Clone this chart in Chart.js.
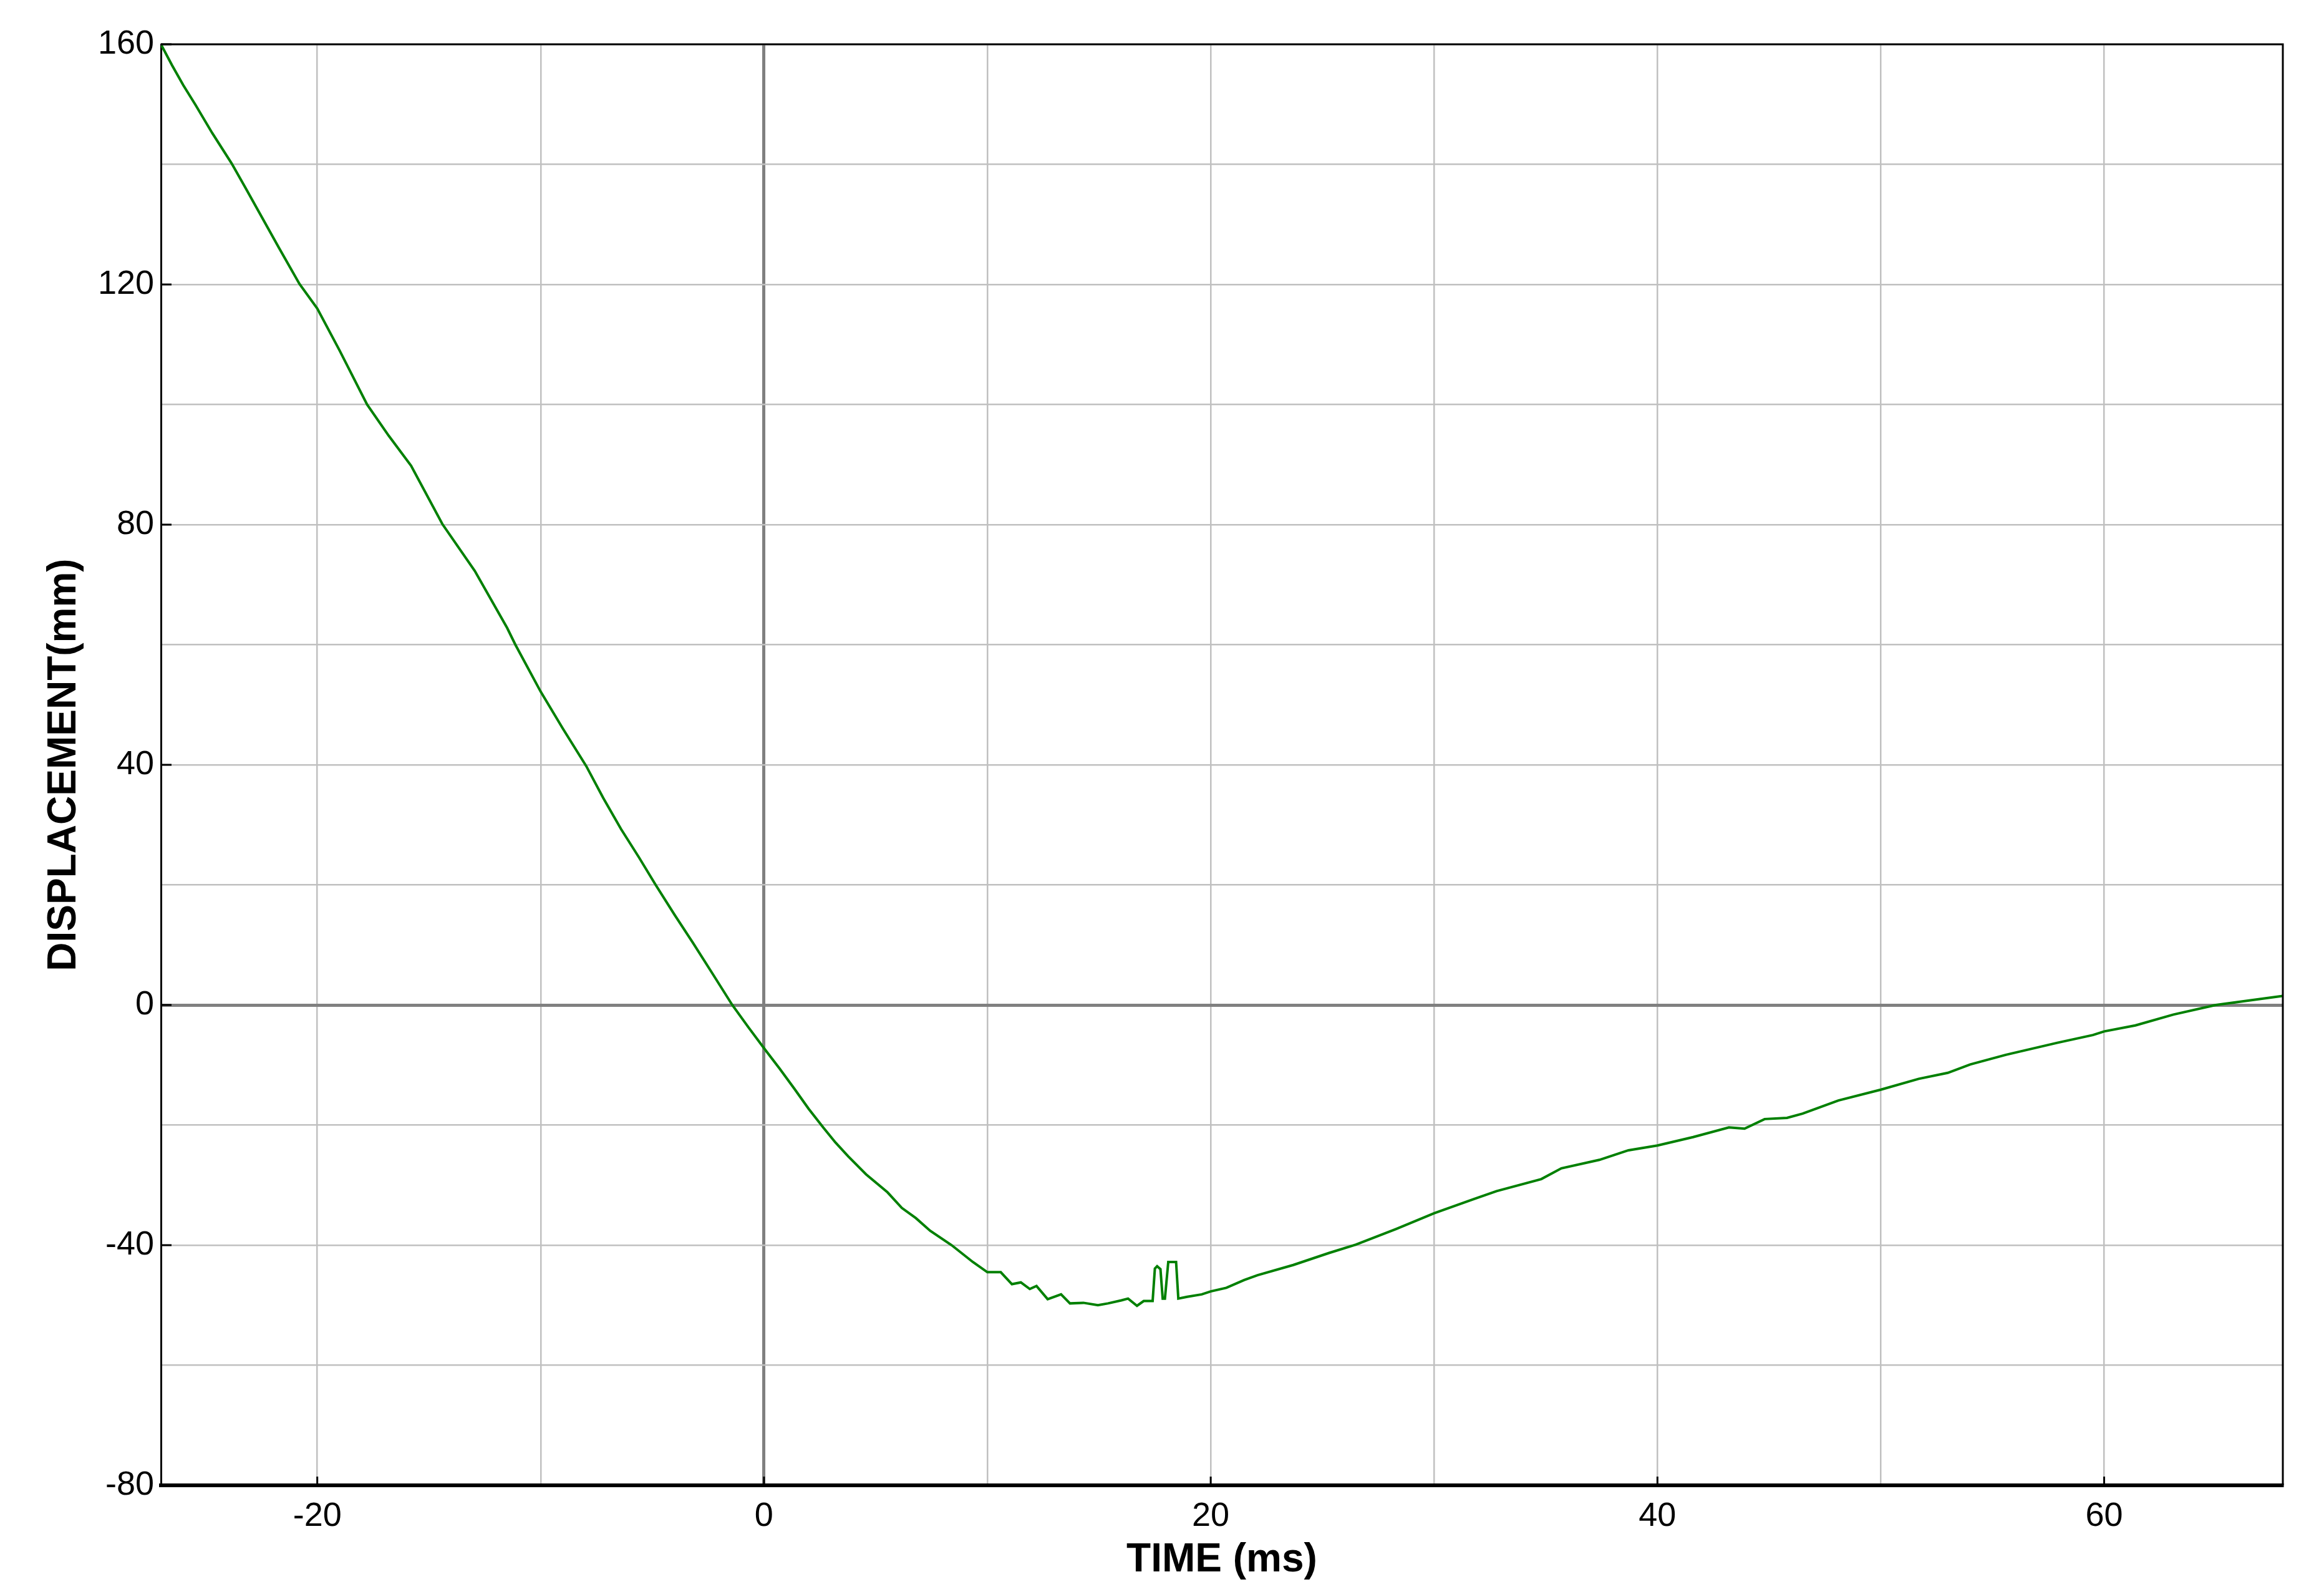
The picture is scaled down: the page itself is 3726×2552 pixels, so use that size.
<!DOCTYPE html>
<html>
<head>
<meta charset="utf-8">
<title>Displacement vs time</title>
<script src="https://cdn.jsdelivr.net/npm/chart.js@4.4.1/dist/chart.umd.min.js"></script>
<style>
  html, body { margin: 0; padding: 0; background: #ffffff; }
  canvas { display: block; }
</style>
</head>
<body>
<canvas id="dispChart" width="3726" height="2552"></canvas>
<script>
// ---- DATA ----
const timeMs = [
    -27.0, -26.5, -26.0, -25.45, -24.7, -23.84, -23.2, -22.6, -21.7, -20.8,
    -20.0, -19.0, -17.77, -16.8, -15.8, -14.4, -12.95, -11.5, -11.13, -10.0,
    -9.0, -7.96, -7.2, -6.4, -5.6, -4.85, -4.0, -3.19, -2.3, -1.42,
    -0.7, 0.0, 0.7, 1.37, 2.0, 2.65, 3.2, 3.77, 4.57, 5.53,
    6.17, 6.8, 7.44, 8.4, 9.35, 10.0, 10.6, 11.1, 11.5, 11.9,
    12.2, 12.7, 13.3, 13.7, 14.3, 14.95, 15.4, 16.0, 16.3, 16.7,
    17.0, 17.4, 17.5, 17.6, 17.75, 17.85, 17.95, 18.1, 18.45, 18.55,
    18.95, 19.6, 20.0, 20.7, 21.5, 22.1, 23.7, 25.3, 26.5, 28.3,
    30.0, 31.8, 32.8, 34.8, 35.7, 37.4, 38.7, 40.0, 41.6, 43.2,
    43.9, 44.8, 45.8, 46.5, 48.1, 50.0, 51.7, 53.0, 54.0, 55.6,
    57.9, 59.5, 60.0, 61.4, 63.1, 65.0, 66.6, 68.0
];
const displacementMm = [
    160.0, 156.5, 153.2, 149.9, 145.2, 140.2, 136.0, 132.0, 126.0, 120.1,
    116.0, 109.0, 100.0, 94.8, 89.8, 80.1, 72.3, 62.8, 60.0, 52.2,
    46.0, 39.8, 34.5, 29.3, 24.6, 20.0, 15.0, 10.4, 5.2, 0.0,
    -3.7, -7.2, -10.6, -14.0, -17.3, -20.4, -22.9, -25.2, -28.2, -31.2,
    -33.8, -35.5, -37.6, -40.0, -42.8, -44.5, -44.5, -46.5, -46.2, -47.3,
    -46.8, -49.0, -48.2, -49.7, -49.6, -50.0, -49.7, -49.2, -48.9, -50.1,
    -49.3, -49.3, -43.9, -43.5, -44.0, -48.9, -48.9, -42.8, -42.8, -48.9,
    -48.6, -48.2, -47.7, -47.1, -45.8, -45.0, -43.3, -41.3, -39.9, -37.3,
    -34.7, -32.3, -31.0, -29.0, -27.2, -25.8, -24.2, -23.4, -22.0, -20.4,
    -20.6, -19.0, -18.8, -18.1, -15.9, -14.1, -12.3, -11.3, -9.9, -8.3,
    -6.3, -5.0, -4.4, -3.4, -1.6, 0.0, 0.8, 1.5
];

// axis ranges, grid lines and labelled ticks
const xRange = [-27, 68];
const yRange = [-80, 160];
const xGridValues = [-20, -10, 0, 10, 20, 30, 40, 50, 60];
const yGridValues = [-80, -60, -40, -20, 0, 20, 40, 60, 80, 100, 120, 140, 160];
const xTickLabels = [-20, 0, 20, 40, 60];
const yTickLabels = [-80, -40, 0, 40, 80, 120, 160];

const points = timeMs.map((t, i) => ({ x: t, y: displacementMm[i] }));

// grid colour: darker line at zero
const gridColor = ctx => (ctx.tick && ctx.tick.value === 0) ? "#808080" : "#c0c0c0";
const gridWidth = ctx => (ctx.tick && ctx.tick.value === 0) ? 5 : 2.5;

// frame on top/right + short inward tick marks at labelled values
const framePlugin = {
    id: "frame",
    afterDraw(chart) {
        const { ctx, chartArea: a, scales } = chart;
        ctx.save();
        ctx.strokeStyle = "#000000";
        ctx.lineWidth = 3;
        ctx.beginPath();
        ctx.moveTo(a.left, a.top);
        ctx.lineTo(a.right, a.top);
        ctx.lineTo(a.right, a.bottom);
        ctx.stroke();

        ctx.lineWidth = 3;
        ctx.beginPath();
        yTickLabels.forEach(v => {
            const py = scales.y.getPixelForValue(v);
            ctx.moveTo(a.left, py);
            ctx.lineTo(a.left + 17, py);
        });
        xTickLabels.forEach(v => {
            const px = scales.x.getPixelForValue(v);
            ctx.moveTo(px, a.bottom);
            ctx.lineTo(px, a.bottom - 14);
        });
        ctx.stroke();
        ctx.restore();
    }
};

Chart.defaults.font.family = "'Liberation Sans', Arial, sans-serif";
Chart.defaults.color = "#000000";

new Chart(document.getElementById("dispChart").getContext("2d"), {
    type: "line",
    data: {
        datasets: [{
            data: points,
            borderColor: "#008000",
            borderWidth: 4,
            pointRadius: 0,
            tension: 0,
            fill: false
        }]
    },
    options: {
        responsive: false,
        animation: false,
        devicePixelRatio: 1,
        layout: { padding: { top: 71, right: 66, left: 0, bottom: 0 } },
        plugins: {
            legend: { display: false },
            tooltip: { enabled: false }
        },
        scales: {
            x: {
                type: "linear",
                min: xRange[0],
                max: xRange[1],
                afterBuildTicks: s => { s.ticks = xGridValues.map(v => ({ value: v })); },
                afterFit: s => { s.height = 171; },
                grid: { color: gridColor, lineWidth: gridWidth, drawTicks: false },
                border: { color: "#000000", width: 6 },
                ticks: {
                    padding: 18,
                    font: { size: 54 },
                    maxRotation: 0,
                    autoSkip: false,
                    callback: v => xTickLabels.includes(v) ? String(v) : ""
                },
                title: {
                    display: true,
                    text: "TIME (ms)",
                    font: { size: 64, weight: "bold" },
                    padding: { top: 0, bottom: 12 }
                }
            },
            y: {
                type: "linear",
                min: yRange[0],
                max: yRange[1],
                afterBuildTicks: s => { s.ticks = yGridValues.map(v => ({ value: v })); },
                afterFit: s => { s.width = 258; },
                grid: { color: gridColor, lineWidth: gridWidth, drawTicks: false },
                border: { color: "#000000", width: 3 },
                ticks: {
                    padding: 11,
                    font: { size: 54 },
                    autoSkip: false,
                    callback: v => yTickLabels.includes(v) ? String(v) : ""
                },
                title: {
                    display: true,
                    text: "DISPLACEMENT(mm)",
                    font: { size: 64, weight: "bold" },
                    padding: { top: 65, bottom: 0 }
                }
            }
        }
    },
    plugins: [framePlugin]
});
</script>
</body>
</html>
